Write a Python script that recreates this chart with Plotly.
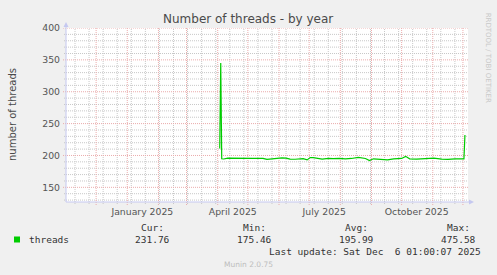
import plotly.graph_objects as go
import pandas as pd

# ---- data ----
dates = [
    "2025-04-03", "2025-04-04", "2025-04-05", "2025-04-07", "2025-04-11", "2025-04-16",
    "2025-04-21", "2025-04-26", "2025-05-01", "2025-05-06", "2025-05-11", "2025-05-16",
    "2025-05-20", "2025-05-24", "2025-05-30", "2025-06-04", "2025-06-08", "2025-06-12",
    "2025-06-17", "2025-06-21", "2025-06-25", "2025-06-29", "2025-07-02", "2025-07-05",
    "2025-07-09", "2025-07-14", "2025-07-20", "2025-07-25", "2025-07-31", "2025-08-06",
    "2025-08-12", "2025-08-19", "2025-08-26", "2025-08-30", "2025-09-03", "2025-09-11",
    "2025-09-17", "2025-09-23", "2025-10-01", "2025-10-05", "2025-10-09", "2025-10-16",
    "2025-10-24", "2025-11-02", "2025-11-10", "2025-11-16", "2025-11-23", "2025-11-29",
    "2025-12-02", "2025-12-03",
]
threads = [
    211.0, 345.0, 194.8, 194.5, 195.8, 195.5,
    196.0, 195.5, 194.9, 195.3, 195.5, 195.3,
    193.9, 194.7, 195.2, 196.3, 195.8, 194.3,
    194.1, 194.3, 195.0, 193.0, 196.8, 196.5,
    195.3, 194.4, 195.5, 195.0, 195.6, 194.8,
    195.3, 196.9, 195.3, 192.0, 194.8, 194.3,
    193.2, 194.8, 195.3, 198.6, 194.8, 194.3,
    195.3, 195.8, 194.3, 193.8, 194.8, 194.3,
    194.8, 232.0,
]

y_major_ticks = [150, 200, 250, 300, 350, 400]
y_minor_ticks = [v for v in range(130, 400, 10) if v % 50 != 0]
y_range = [127, 400]
x_start = "2024-11-01 01:00"
x_end = "2025-12-06 01:00"
month_label_dates = ["2025-01-16", "2025-04-16", "2025-07-16", "2025-10-16"]
month_labels = ["January 2025", "April 2025", "July 2025", "October 2025"]
month_grid = [d.strftime("%Y-%m-%d") for d in pd.date_range("2024-12-01", "2025-12-01", freq="MS")]
week_grid = [d.strftime("%Y-%m-%d") for d in pd.date_range("2024-11-10", "2025-12-06", freq="14D")]

series_name = "threads"
stat_names = ["Cur:", "Min:", "Avg:", "Max:"]
stat_values = ["231.76", "175.46", "195.99", "475.58"]
last_update = "Last update: Sat Dec \u00a06 01:00:07 2025"
title = "Number of threads - by year"
y_title = "number of threads"
footer = "Munin 2.0.75"
side_text = "RRDTOOL / TOBI OETIKER"

# ---- layout geometry ----
W, H = 497, 275
L, R, T, B = 66, 29, 28, 73
PW, PH = W - L - R, H - T - B


def fx(px):
    return (px - L) / PW


def fy(py):
    return (H - B - py) / PH


LINE = "#00cc00"
MAJOR = "#ebacac"
MINOR = "#c8c8c8"
AXIS = "#c5c8f0"
TXT = "#555555"
DASH = "1px,1px"

fig = go.Figure()
fig.add_trace(go.Scatter(x=dates, y=threads, mode="lines",
                         line=dict(color=LINE, width=1.2),
                         showlegend=False, hoverinfo="skip"))

fig.update_layout(
    width=W, height=H,
    margin=dict(l=L, r=R, t=T, b=B, pad=0),
    paper_bgcolor="#f0f0f0", plot_bgcolor="#ffffff",
    font=dict(family="DejaVu Sans", size=9.3, color=TXT),
    xaxis=dict(type="date", range=[x_start, x_end], tickmode="array",
               tickvals=month_label_dates, ticktext=month_labels,
               showgrid=False, ticks="", ticklabelstandoff=3, zeroline=False,
               showline=False, fixedrange=True,
               tickfont=dict(family="DejaVu Sans", size=9.3, color=TXT)),
    yaxis=dict(range=y_range, tickmode="array", tickvals=y_major_ticks,
               showgrid=False, ticks="", ticklabelstandoff=5, zeroline=False,
               showline=False, fixedrange=True,
               tickfont=dict(family="DejaVu Sans", size=9.3, color=TXT)),
)

shapes = []
# minor (gray) grid
for d in week_grid:
    shapes.append(dict(type="line", xref="x", yref="paper", x0=d, x1=d, y0=fy(204), y1=1,
                       layer="below", line=dict(color=MINOR, width=1, dash=DASH)))
for v in y_minor_ticks:
    shapes.append(dict(type="line", xref="paper", yref="y", x0=fx(64), x1=1, y0=v, y1=v,
                       layer="below", line=dict(color=MINOR, width=1, dash=DASH)))
# major (red) grid
for d in month_grid:
    shapes.append(dict(type="line", xref="x", yref="paper", x0=d, x1=d, y0=fy(205), y1=1,
                       layer="below", line=dict(color=MAJOR, width=1, dash=DASH)))
for v in y_major_ticks:
    shapes.append(dict(type="line", xref="paper", yref="y", x0=fx(63), x1=1, y0=v, y1=v,
                       layer="below", line=dict(color=MAJOR, width=1, dash=DASH)))
# axes with arrows
shapes += [
    dict(type="line", xref="paper", yref="paper", x0=fx(66), x1=fx(470), y0=fy(202), y1=fy(202),
         line=dict(color=AXIS, width=1)),
    dict(type="line", xref="paper", yref="paper", x0=fx(66), x1=fx(66), y0=fy(202), y1=fy(25),
         line=dict(color=AXIS, width=1)),
    dict(type="path", xref="paper", yref="paper",
         path=f"M {fx(469)},{fy(199.5)} L {fx(474)},{fy(202)} L {fx(469)},{fy(204.5)} Z",
         fillcolor=AXIS, line=dict(width=0)),
    dict(type="path", xref="paper", yref="paper",
         path=f"M {fx(63.5)},{fy(27)} L {fx(66)},{fy(22)} L {fx(68.5)},{fy(27)} Z",
         fillcolor=AXIS, line=dict(width=0)),
    # legend swatch
    dict(type="rect", xref="paper", yref="paper", x0=fx(14), x1=fx(20), y0=fy(242.5), y1=fy(236.5),
         fillcolor=LINE, line=dict(width=0)),
]
fig.update_layout(shapes=shapes)

MONO = "DejaVu Sans Mono"
ann = []


def add(text, x, y, xa="center", size=9.5, color="#333333", family=MONO, angle=0):
    ann.append(dict(text=text, x=fx(x), y=fy(y), xref="paper", yref="paper",
                    xanchor=xa, yanchor="middle", showarrow=False, textangle=angle,
                    font=dict(family=family, size=size, color=color)))


add(title, 248.3, 18.5, size=12, color="#4a4a4a", family="DejaVu Sans")
add(y_title, 12, 115, size=10, color="#4a4a4a", family="DejaVu Sans", angle=-90)
add(side_text, 488.3, 58, size=7, color="#c8c8c8", family="DejaVu Sans", angle=90)
add(series_name, 26.5, 239.3, xa="left")
stat_name_x = [152, 254, 356.2, 458.7]
stat_val_x = [152.2, 254.5, 356.7, 458.9]
for n, v, xn, xv in zip(stat_names, stat_values, stat_name_x, stat_val_x):
    add(n, xn, 227.7)
    add(v, xv, 239.3)
add(last_update, 483, 251.7, xa="right")
add(footer, 248, 264.3, size=7.5, color="#bdbdbd", family="DejaVu Sans")
fig.update_layout(annotations=ann)

fig.write_html("out.html", config={"displayModeBar": False})
